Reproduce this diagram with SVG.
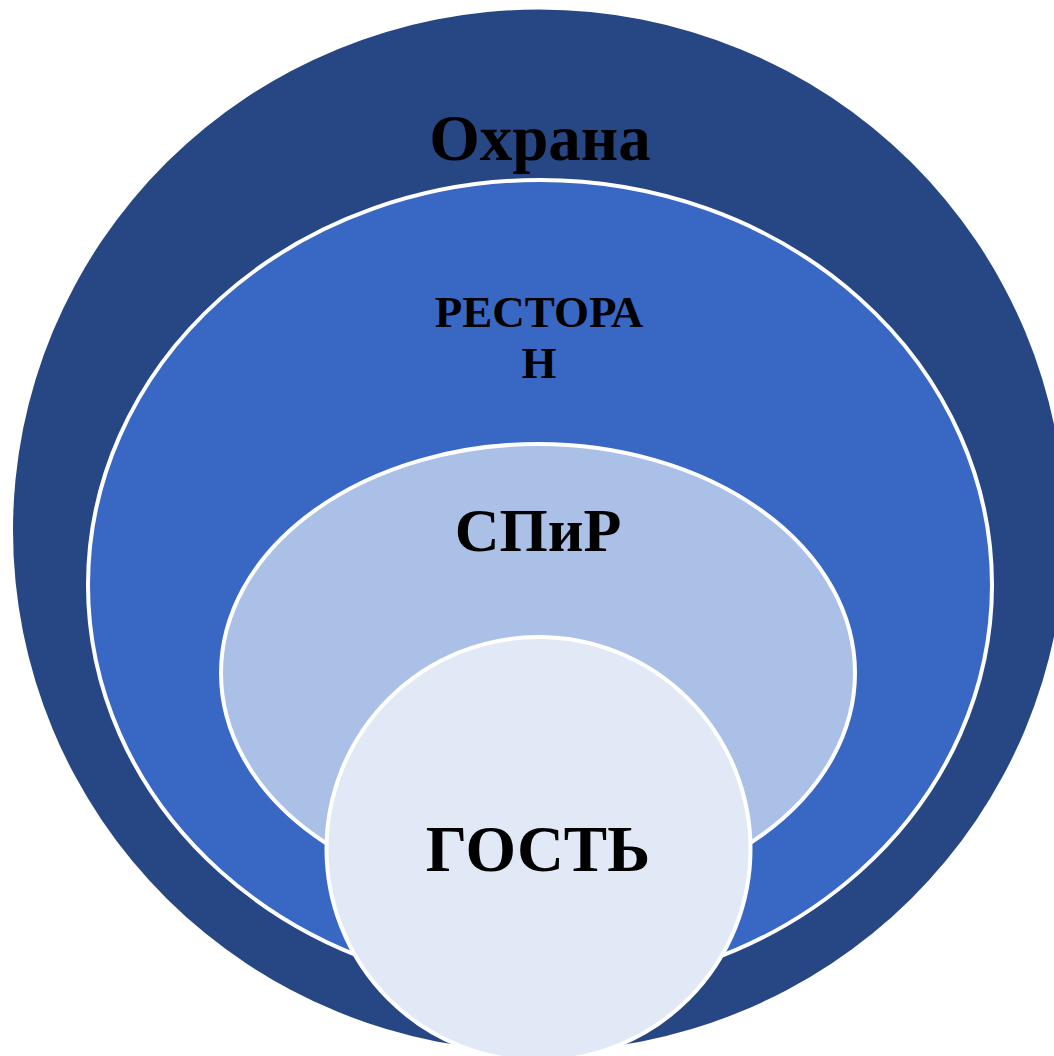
<svg xmlns="http://www.w3.org/2000/svg" width="1054" height="1056" viewBox="0 0 1054 1056">
<style>
.lbl{font-family:"Liberation Serif","Times New Roman",serif;font-weight:bold;fill:#000;text-anchor:middle}
.ring{stroke:#fff;stroke-width:4}
</style>
<rect width="1054" height="1056" fill="#fff"/>
<g id="node-ohrana">
<ellipse cx="539" cy="530.5" rx="526" ry="521" fill="#264783"/>
<text class="lbl" x="540" y="160" font-size="65">Охрана</text>
</g>
<g id="node-restoran">
<ellipse class="ring" cx="540" cy="585" rx="452" ry="405" fill="#3968C4"/>
<text class="lbl" x="539" y="327" font-size="45">РЕСТОРА</text>
<text class="lbl" x="539" y="378" font-size="45">Н</text>
</g>
<g id="node-spir">
<ellipse class="ring" cx="538" cy="673" rx="317" ry="229" fill="#ABC0E7"/>
<text class="lbl" x="538" y="551" font-size="62">СПиР</text>
</g>
<g id="node-gost">
<circle class="ring" cx="538.5" cy="849" r="212" fill="#E1E9F6"/>
<text class="lbl" x="538" y="871" font-size="65">ГОСТЬ</text>
</g>
<g id="connectors"/>
</svg>
